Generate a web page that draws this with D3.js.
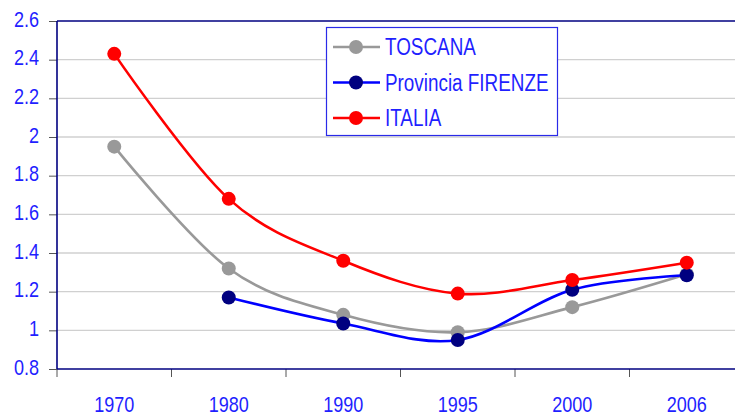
<!DOCTYPE html>
<html><head><meta charset="utf-8">
<script src="https://cdn.jsdelivr.net/npm/d3@7"></script>
<style>body{margin:0;background:#fff}svg{display:block}</style>
</head><body><svg id="c" width="735" height="416"></svg>
<script>
const categories = ["1970","1980","1990","1995","2000","2006"];
const toscana = [1.95, 1.32, 1.08, 0.99, 1.12, 1.29];
const firenze = [null, 1.17, 1.035, 0.95, 1.21, 1.285];
const italia = [2.43, 1.68, 1.36, 1.19, 1.26, 1.35];
const yTicks = [0.8, 1, 1.2, 1.4, 1.6, 1.8, 2, 2.2, 2.4, 2.6];
const seriesNames = ["TOSCANA", "Provincia FIRENZE", "ITALIA"];

const svg = d3.select("#c");
const L = 57, R = 744, T = 21, B = 369;
const font = "'Liberation Sans', Arial, sans-serif";
const txtCol = "#1f1fff";
const x = d3.scaleBand().domain(categories).range([L, R]);
const y = d3.scaleLinear().domain([0.8, 2.6]).range([B, T]);

function narrow(sel, size) {
  sel.attr("font-family", font).attr("font-size", size).attr("fill", txtCol)
    .each(function() {
      const w = this.getComputedTextLength();
      d3.select(this).attr("textLength", w * 0.82).attr("lengthAdjust", "spacingAndGlyphs");
    });
}

// gridlines
svg.append("g").selectAll("line").data(yTicks.filter(v => v > 0.8 && v < 2.6)).join("line")
  .attr("x1", L).attr("x2", R).attr("y1", d => y(d)).attr("y2", d => y(d))
  .attr("stroke", "#d0d0d0").attr("stroke-width", 1.3);

// y axis
const ya = svg.append("g").attr("transform", `translate(${L},0)`)
  .call(d3.axisLeft(y).tickValues(yTicks).tickSize(8).tickPadding(10).tickFormat(d => String(d)));
ya.select(".domain").remove();
ya.selectAll(".tick line").attr("stroke", "#555");
ya.selectAll(".tick text").attr("dy", "0.24em").call(narrow, 22);

// x axis
const xa = svg.append("g").attr("transform", `translate(0,${B})`)
  .call(d3.axisBottom(x).tickSize(0).tickPadding(27));
xa.select(".domain").remove();
xa.selectAll(".tick text").call(narrow, 22);
const bounds = categories.map(c => x(c)).concat([R]);
svg.append("g").selectAll("line").data(bounds).join("line")
  .attr("x1", d => d).attr("x2", d => d).attr("y1", B).attr("y2", B + 8)
  .attr("stroke", "#555").attr("stroke-width", 1);

// plot frame lines
svg.append("line").attr("x1", L).attr("x2", R).attr("y1", B).attr("y2", B).attr("stroke", "#000080").attr("stroke-width", 1.6);
svg.append("line").attr("x1", L).attr("x2", R).attr("y1", T).attr("y2", T).attr("stroke", "#000080").attr("stroke-width", 1.6);
svg.append("line").attr("x1", L).attr("x2", L).attr("y1", T).attr("y2", B).attr("stroke", "#000080").attr("stroke-width", 1.6);

const cx = c => x(c) + x.bandwidth() / 2;
const series = [
  {name: seriesNames[0], vals: toscana, line: "#999999", mark: "#999999"},
  {name: seriesNames[1], vals: firenze, line: "#0000ff", mark: "#000080"},
  {name: seriesNames[2], vals: italia, line: "#ff0000", mark: "#ff0000"}
];
const lineGen = d3.line().x(d => cx(d.c)).y(d => y(d.v)).curve(d3.curveCatmullRom.alpha(0));
series.forEach(s => {
  const pts = categories.map((c, i) => ({c, v: s.vals[i]})).filter(p => p.v != null);
  svg.append("path").datum(pts).attr("d", lineGen)
    .attr("fill", "none").attr("stroke", s.line).attr("stroke-width", 2.6);
  svg.append("g").selectAll("circle").data(pts).join("circle")
    .attr("cx", d => cx(d.c)).attr("cy", d => y(d.v)).attr("r", 7).attr("fill", s.mark);
});

// legend
const lg = svg.append("g");
lg.append("rect").attr("x", 326.5).attr("y", 27.5).attr("width", 231).attr("height", 108)
  .attr("fill", "#fff").attr("stroke", "#2a2ae8").attr("stroke-width", 1.2);
series.forEach((s, i) => {
  const yy = 47 + i * 35.5;
  lg.append("line").attr("x1", 333).attr("x2", 380).attr("y1", yy).attr("y2", yy).attr("stroke", s.line).attr("stroke-width", 2.6);
  lg.append("circle").attr("cx", 356).attr("cy", yy).attr("r", 7).attr("fill", s.mark);
  lg.append("text").attr("x", 385).attr("y", yy + 8).text(s.name).call(narrow, 23);
});
</script></body></html>
